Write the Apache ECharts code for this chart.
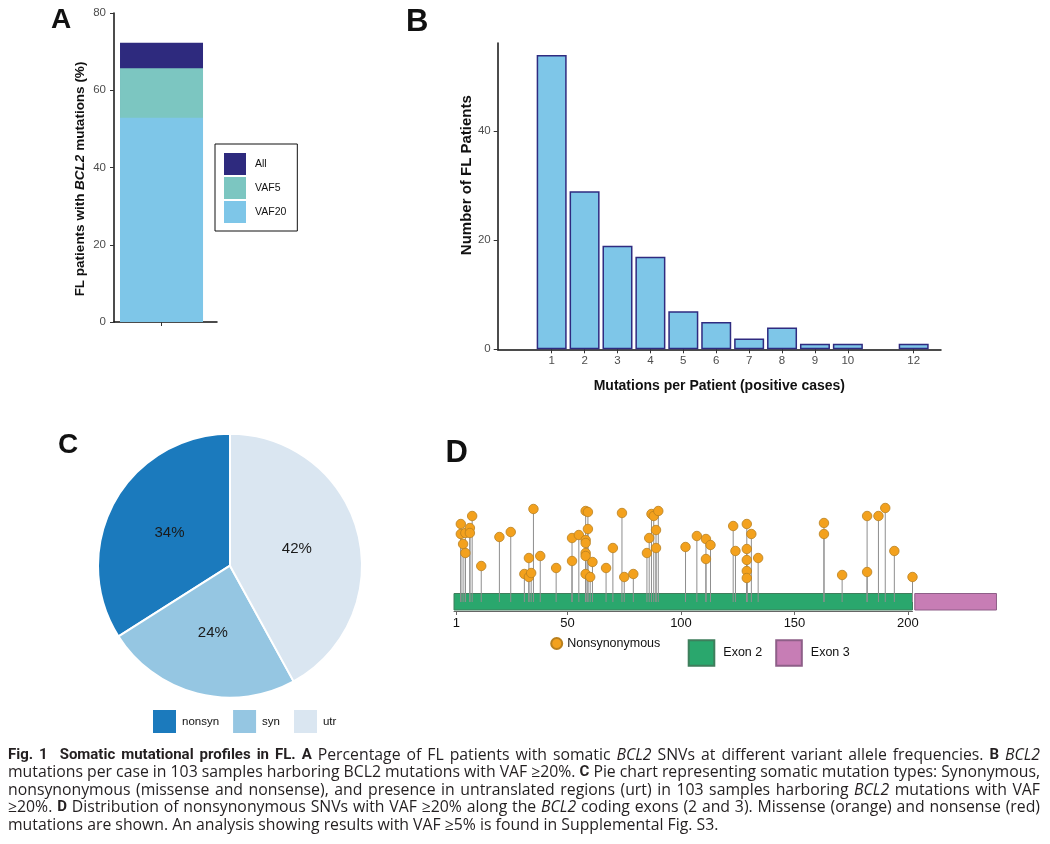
<!DOCTYPE html>
<html><head><meta charset="utf-8">
<script src="https://cdn.jsdelivr.net/npm/echarts@6/dist/echarts.min.js"></script>
<style>html,body{margin:0;padding:0;background:#fff}#c{width:1050px;height:844px}</style>
</head><body><div id="c"></div>
<script>
// ---- Panel A: % of FL patients with BCL2 mutations
const vafLevels = ['All', 'VAF5', 'VAF20'];
const vafPct = [72.3, 65.7, 52.9];
const yTicksA = [0, 20, 40, 60, 80];

// ---- Panel B: mutations per patient
const mutPerPatient = [1, 2, 3, 4, 5, 6, 7, 8, 9, 10, 12];
const patientCounts = [54, 29, 19, 17, 7, 5, 2, 4, 1, 1, 1];
const yTicksB = [0, 20, 40];

// ---- Panel C: mutation types
const mutTypes = ['nonsyn', 'syn', 'utr'];
const mutShares = [34, 24, 42];

// ---- Panel D: nonsynonymous SNVs along BCL2 protein
const snvPos = [3,3,4,5,5,7,7,8,12,20,25,31,33,33,34,35,38,45,52,52,55,58,59,58,58,59,58,58,58,60,61,67,70,74,75,79,85,86,87,88,90,89,89,102,107,111,113,111,123,124,129,131,129,129,129,129,134,163,163,171,182,182,187,190,194,202];
const snvHeight = [70,60,50,41,61,66,61,78,28,57,62,20,36,17,21,85,38,26,56,33,59,83,82,54,51,65,41,38,20,17,32,26,46,81,17,20,41,56,80,78,83,64,46,47,58,55,49,35,68,43,70,60,45,34,23,16,36,71,60,19,78,22,78,86,43,17];
const exonNames = ['Exon 2', 'Exon 3'];
const exonStart = [0, 203];
const exonEnd = [202, 239];
const proteinTicks = [1, 50, 100, 150, 200];

// ---- Caption
const captionLines = [
  '{b|Fig. 1}  {b|Somatic mutational profiles in FL. A} Percentage of FL patients with somatic {i|BCL2} SNVs at different variant allele frequencies. {b|B} {i|BCL2}',
  'mutations per case in 103 samples harboring BCL2 mutations with VAF ≥20%. {b|C} Pie chart representing somatic mutation types: Synonymous,',
  'nonsynonymous (missense and nonsense), and presence in untranslated regions (urt) in 103 samples harboring {i|BCL2} mutations with VAF',
  '≥20%. {b|D} Distribution of nonsynonymous SNVs with VAF ≥20% along the {i|BCL2} coding exons (2 and 3). Missense (orange) and nonsense (red)',
  'mutations are shown. An analysis showing results with VAF ≥5% is found in Supplemental Fig. S3.'
];

const FONT = 'Liberation Sans, Arial, Helvetica, sans-serif';
const colA = {All: '#2E2A7E', VAF5: '#7CC6C1', VAF20: '#7EC6E8'};
const colC = ['#1B7ABD', '#95C6E2', '#DAE6F1'];
const colExon = [{fill: '#2AA76D', stroke: '#3F7E5C'}, {fill: '#C77DB5', stroke: '#8E5F88'}];

const chart = echarts.init(document.getElementById('c'), null, {renderer: 'canvas'});
const axisGray = {color: '#4d4d4d', fontSize: 11.5, fontFamily: FONT};

// caption typesetting (justified like the printed figure)
const capFonts = {
  r: {fontSize: 15.8, fontFamily: 'Open Sans', fontWeight: 'normal', fontStyle: 'normal'},
  b: {fontSize: 15, fontFamily: 'Roboto', fontWeight: 'bold', fontStyle: 'normal'},
  i: {fontSize: 15.8, fontFamily: 'Open Sans', fontWeight: 'normal', fontStyle: 'italic'}
};
const mctx = document.createElement('canvas').getContext('2d');
function measure(text, key) {
  const f = capFonts[key];
  mctx.font = `${f.fontStyle} ${f.fontWeight} ${f.fontSize}px "${f.fontFamily}"`;
  return mctx.measureText(text).width;
}
function typeset(line, justifyWidth) {
  const items = [];
  const re = /\{(b|i)\|([^}]*)\}|([^{]+)/g;
  let m;
  while ((m = re.exec(line))) {
    const key = m[1] || 'r';
    const txt = m[1] ? m[2] : m[3];
    const parts = txt.split(/( +)/);
    parts.forEach(p => {
      if (!p) return;
      if (/^ +$/.test(p)) items.push({sp: p.length});
      else items.push({w: p, k: key});
    });
  }
  let wordW = 0, nSp = 0;
  items.forEach(it => { if (it.w) wordW += measure(it.w, it.k); else nSp += it.sp; });
  const spW = justifyWidth ? (justifyWidth - wordW) / nSp : measure(' ', 'r');
  const rich = {
    r: {...capFonts.r, color: '#231f20'},
    b: {...capFonts.b, color: '#231f20'},
    i: {...capFonts.i, color: '#231f20'},
    s: {...capFonts.r, width: spW, color: '#231f20'}
  };
  const text = items.map(it => it.w ? `{${it.k}|${it.w}}` : '{s| }'.repeat(it.sp)).join('');
  return {text, rich};
}

const graphics = [];
[['A', 51, 20, 28], ['B', 406, 22, 31], ['C', 58, 445, 28], ['D', 445.5, 453, 31]].forEach(([t, x, y, s]) => {
  graphics.push({type: 'text', x: x, y: y, style: {text: t, fontSize: s, fontWeight: 'bold', fontFamily: FONT, fill: '#111', verticalAlign: 'middle'}});
});
captionLines.forEach((line, i) => {
  const last = i === captionLines.length - 1;
  const ts = typeset(line, last ? 0 : 1032);
  graphics.push({type: 'text', x: 8, y: 755 + i * 17.5,
    style: {text: ts.text, rich: ts.rich, fontSize: 15.8, fontFamily: 'Open Sans', fill: '#231f20', verticalAlign: 'middle'}});
});

const series = [];
// Panel A bars (overlapping cumulative levels)
vafLevels.forEach((lv, i) => {
  series.push({
    type: 'bar', name: lv, xAxisIndex: 0, yAxisIndex: 0, barWidth: 83, barGap: '-100%',
    data: [[0, vafPct[i]]], itemStyle: {color: colA[lv]}, silent: true
  });
});
// Panel B bars
series.push({
  type: 'bar', name: 'patients', xAxisIndex: 1, yAxisIndex: 1, barWidth: 30,
  data: mutPerPatient.map((m, i) => [m, patientCounts[i]]),
  itemStyle: {color: '#7EC6E8', borderColor: '#2F2B80', borderWidth: 1.5}, silent: true
});
// Panel C pie
series.push({
  type: 'pie', center: [230, 565.7], radius: 132, clockwise: false, startAngle: 90,
  data: mutTypes.map((n, i) => ({name: n, value: mutShares[i], itemStyle: {color: colC[i]}})),
  itemStyle: {borderColor: '#fff', borderWidth: 2},
  label: {show: true, position: 'inside', formatter: '{c}%', fontSize: 15, fontFamily: FONT, color: '#1a1a1a'},
  labelLine: {show: false}, silent: true, emphasis: {disabled: true}
});
// Panel D exons
exonNames.forEach((n, i) => {
  series.push({
    type: 'custom', name: n, xAxisIndex: 2, yAxisIndex: 2, silent: true,
    itemStyle: {color: colExon[i].fill, borderColor: colExon[i].stroke, borderWidth: 1},
    data: [[exonStart[i], exonEnd[i]]],
    renderItem: (params, api) => {
      const p0 = api.coord([api.value(0), 0]);
      const p1 = api.coord([api.value(1), 0]);
      return {type: 'rect', shape: {x: p0[0], y: p0[1] - 0.5, width: p1[0] - p0[0], height: 16.5},
        style: {fill: colExon[i].fill, stroke: colExon[i].stroke, lineWidth: 1}};
    }
  });
});
// Panel D stems
series.push({
  type: 'custom', name: 'stems', xAxisIndex: 2, yAxisIndex: 2, silent: true,
  data: snvPos.map((p, i) => [p, snvHeight[i]]),
  renderItem: (params, api) => {
    const base = api.coord([api.value(0), 0]);
    const top = api.coord([api.value(0), api.value(1)]);
    return {type: 'line', shape: {x1: base[0], y1: base[1] + 8, x2: top[0], y2: top[1]},
      style: {stroke: '#8e8e8e', lineWidth: 1}};
  }
});
// Panel D heads
series.push({
  type: 'scatter', name: 'Nonsynonymous', xAxisIndex: 2, yAxisIndex: 2, symbolSize: 9.5, silent: true,
  data: snvPos.map((p, i) => [p, snvHeight[i]]),
  itemStyle: {color: '#F3A11D', borderColor: '#B9801F', borderWidth: 0.8, opacity: 1}
});

const option = {
  backgroundColor: '#fff',
  animation: false,
  textStyle: {fontFamily: FONT},
  grid: [
    {left: 114, top: 13, width: 103, height: 309},
    {left: 497.7, top: 43, width: 443.3, height: 306.3},
    {left: 454, top: 494, width: 458.5, height: 117}
  ],
  xAxis: [
    {gridIndex: 0, type: 'value', min: -0.5, max: 0.584,
      axisLine: {show: true, onZero: false, lineStyle: {color: '#111', width: 1.5}},
      axisTick: {show: true, customValues: [0], length: 4, lineStyle: {color: '#333'}},
      axisLabel: {show: false}, splitLine: {show: false}},
    {gridIndex: 1, type: 'value', min: -0.64, max: 12.83,
      axisLine: {show: true, onZero: false, lineStyle: {color: '#111', width: 1.5}},
      axisTick: {show: true, customValues: mutPerPatient, length: 4, lineStyle: {color: '#333'}},
      axisLabel: {show: true, customValues: mutPerPatient, margin: 6, ...axisGray},
      splitLine: {show: false},
      name: 'Mutations per Patient (positive cases)', nameLocation: 'middle', nameGap: 30,
      nameTextStyle: {fontSize: 14, fontWeight: 'bold', fontFamily: FONT, color: '#111'}},
    {gridIndex: 2, type: 'value', min: 0, max: 202,
      axisLine: {show: true, onZero: false, lineStyle: {color: '#666', width: 1}},
      axisTick: {show: true, customValues: proteinTicks, length: 4, lineStyle: {color: '#666'}},
      axisLabel: {show: true, customValues: proteinTicks, margin: 6, color: '#111', fontSize: 13, fontFamily: FONT},
      splitLine: {show: false}}
  ],
  yAxis: [
    {gridIndex: 0, type: 'value', min: 0, max: 80, interval: 20,
      axisLine: {show: true, onZero: false, lineStyle: {color: '#111', width: 1.5}},
      axisTick: {show: true, length: 4, lineStyle: {color: '#333'}},
      axisLabel: {show: true, margin: 8, ...axisGray}, splitLine: {show: false},
      name: 'FL patients with {i|BCL2} mutations (%)', nameLocation: 'middle', nameGap: 27,
      nameTextStyle: {fontSize: 13.5, fontWeight: 'bold', fontFamily: FONT, color: '#111', padding: [0, 23, 0, 0],
        rich: {i: {fontSize: 13.5, fontWeight: 'bold', fontStyle: 'italic', fontFamily: FONT, color: '#111'}}}},
    {gridIndex: 1, type: 'value', min: 0, max: 56.2,
      axisLine: {show: true, onZero: false, lineStyle: {color: '#111', width: 1.5}},
      axisTick: {show: true, customValues: yTicksB, length: 4, lineStyle: {color: '#333'}},
      axisLabel: {show: true, customValues: yTicksB, margin: 7, ...axisGray}, splitLine: {show: false},
      name: 'Number of FL Patients', nameLocation: 'middle', nameGap: 18,
      nameTextStyle: {fontSize: 15, fontWeight: 'bold', fontFamily: FONT, color: '#111', padding: [0, 0, 0, 42]}},
    {gridIndex: 2, type: 'value', min: -17, max: 100, show: false}
  ],
  legend: [
    {data: vafLevels, orient: 'vertical', left: 215, top: 144, padding: [9, 11, 8, 9],
      itemWidth: 22, itemHeight: 22, itemGap: 2, icon: 'rect', borderColor: '#111', borderWidth: 1,
      textStyle: {fontSize: 10.5, fontFamily: FONT, color: '#111', padding: [0, 0, 0, 4]}, selectedMode: false},
    {data: mutTypes, left: 151, top: 708, padding: 0, itemWidth: 25, itemHeight: 25, itemGap: 12, icon: 'rect',
      textStyle: {fontSize: 11.5, fontFamily: FONT, color: '#111'}, selectedMode: false},
    {data: ['Nonsynonymous'], left: 550.2, top: 637, padding: 0, itemWidth: 11, itemHeight: 11, icon: 'circle',
      textStyle: {fontSize: 12.5, fontFamily: FONT, color: '#111'}, selectedMode: false},
    {data: exonNames, left: 687.7, top: 639.3, padding: 0, itemWidth: 25.6, itemHeight: 25.4, itemGap: 13, icon: 'rect',
      textStyle: {fontSize: 12.5, fontFamily: FONT, color: '#111', padding: [0, 0, 0, 4]}, selectedMode: false}
  ],
  graphic: graphics,
  series: series
};
chart.setOption(option);
</script></body></html>
